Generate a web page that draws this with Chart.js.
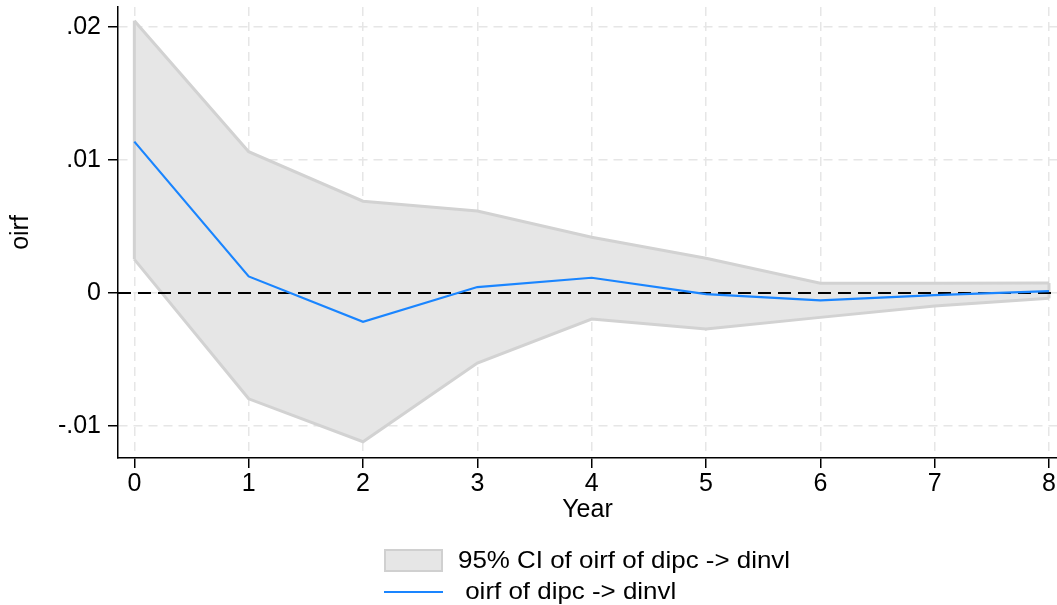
<!DOCTYPE html>
<html>
<head>
<meta charset="utf-8">
<script src="https://cdn.jsdelivr.net/npm/chart.js@4/dist/chart.umd.min.js"></script>
<style>
  body { margin: 0; background: #fff; }
  #wrap { position: relative; width: 1057px; height: 605px; font-family: "Liberation Sans", Arial, sans-serif; }
  .leg { position: absolute; font-size: 24px; color: #000; white-space: pre; line-height: 24px; transform: scaleX(1.08); transform-origin: left center; }
  .swatch { position: absolute; left: 384px; top: 549px; width: 55px; height: 19px; background: #e6e6e6; border: 2px solid #d0d0d0; }
  .lineKey { position: absolute; left: 384px; top: 591px; width: 59px; height: 2px; background: #1a85ff; }
</style>
</head>
<body>
<div id="wrap">
  <canvas id="irfChart" width="1057" height="605"></canvas>
  <div class="swatch"></div>
  <div class="leg" style="left:458px; top:548px;">95% CI of oirf of dipc -> dinvl</div>
  <div class="lineKey"></div>
  <div class="leg" style="left:458px; top:579px;"> oirf of dipc -> dinvl</div>
</div>
<script>
// Werte
const years = [0, 1, 2, 3, 4, 5, 6, 7, 8];
const oirf = [0.01138, 0.00125, -0.00216, 0.00045, 0.00115, -0.00008, -0.00055, -0.00015, 0.00015];
const ciUpper = [0.02047, 0.01062, 0.0069, 0.00617, 0.00419, 0.00262, 0.00073, 0.00073, 0.00075];
const ciLower = [0.00253, -0.00795, -0.01118, -0.00526, -0.00196, -0.0027, -0.00183, -0.00098, -0.0004];

const yTickValues = [-0.01, 0, 0.01, 0.02];
const yTickLabels = ['-.01', '0', '.01', '.02'];
const xTickValues = [0, 1, 2, 3, 4, 5, 6, 7, 8];
const refLineValue = 0;

const toPoints = vals => years.map((x, i) => ({ x: x, y: vals[i] }));

// Seitenkanten des Bandes + Nulllinie vor der IRF-Linie zeichnen
const zeroLine = {
  id: 'zeroLine',
  beforeDatasetDraw(chart, args) {
    if (args.index !== 0) return;
    const { ctx, chartArea, scales } = chart;
    ctx.save();
    ctx.strokeStyle = '#d2d2d2';
    ctx.lineWidth = 3;
    [0, years.length - 1].forEach(i => {
      const x = scales.x.getPixelForValue(years[i]);
      ctx.beginPath();
      ctx.moveTo(x, scales.y.getPixelForValue(ciUpper[i]));
      ctx.lineTo(x, scales.y.getPixelForValue(ciLower[i]));
      ctx.stroke();
    });
    const y = scales.y.getPixelForValue(refLineValue);
    ctx.strokeStyle = '#000';
    ctx.lineWidth = 2;
    ctx.setLineDash([13, 7]);
    ctx.beginPath();
    ctx.moveTo(chartArea.left, y);
    ctx.lineTo(chartArea.right, y);
    ctx.stroke();
    ctx.restore();
  }
};

const font = { family: '"Liberation Sans", Arial, sans-serif', size: 25 };

const ctx = document.getElementById('irfChart').getContext('2d');
const irfChart = new Chart(ctx, {
  type: 'line',
  data: {
    datasets: [
      {
        label: 'oirf of dipc -> dinvl',
        data: toPoints(oirf),
        borderColor: '#1a85ff',
        borderWidth: 2.2,
        pointRadius: 0,
        fill: false,
        tension: 0
      },
      {
        label: '95% CI of oirf of dipc -> dinvl',
        data: toPoints(ciUpper),
        borderColor: '#d2d2d2',
        borderWidth: 3,
        backgroundColor: '#e6e6e6',
        pointRadius: 0,
        fill: '+1',
        tension: 0
      },
      {
        label: 'lower',
        data: toPoints(ciLower),
        borderColor: '#d2d2d2',
        borderWidth: 3,
        pointRadius: 0,
        fill: false,
        tension: 0
      }
    ]
  },
  options: {
    responsive: false,
    animation: false,
    layout: { padding: { top: 7, right: 0, bottom: 0, left: 0 } },
    plugins: {
      legend: { display: false },
      tooltip: { enabled: false },
      filler: { drawTime: 'beforeDatasetsDraw' }
    },
    scales: {
      x: {
        type: 'linear',
        min: -0.143,
        max: 8.07,
        afterBuildTicks: s => { s.ticks = xTickValues.map(v => ({ value: v })); },
        afterFit: s => { s.height = 147; s.paddingLeft = 0; s.paddingRight = 0; },
        ticks: {
          color: '#000',
          font: font,
          padding: 1,
          maxRotation: 0,
          callback: v => String(v)
        },
        grid: {
          color: '#e6e6e6',
          lineWidth: 1.5,
          tickColor: '#000',
          tickLength: 10,
          tickWidth: 1.5,
          tickBorderDash: []
        },
        border: { display: true, color: '#000', width: 1.5, dash: [9, 6] },
        title: {
          display: true,
          text: 'Year',
          color: '#000',
          font: font,
          padding: { top: 0, bottom: 80 }
        }
      },
      y: {
        min: -0.0124,
        max: 0.0215,
        afterBuildTicks: s => { s.ticks = yTickValues.map(v => ({ value: v })); },
        afterFit: s => { s.width = 118; s.paddingTop = 0; s.paddingBottom = 0; },
        ticks: {
          color: '#000',
          font: font,
          padding: 7,
          callback: v => yTickLabels[yTickValues.indexOf(v)]
        },
        grid: {
          color: '#e6e6e6',
          lineWidth: 1.5,
          tickColor: '#000',
          tickLength: 10,
          tickWidth: 1.5,
          tickBorderDash: []
        },
        border: { display: true, color: '#000', width: 1.5, dash: [9, 6] },
        title: {
          display: true,
          text: 'oirf',
          color: '#000',
          font: font,
          padding: { top: 6, bottom: 0 }
        }
      }
    }
  },
  plugins: [zeroLine]
});
</script>
</body>
</html>
